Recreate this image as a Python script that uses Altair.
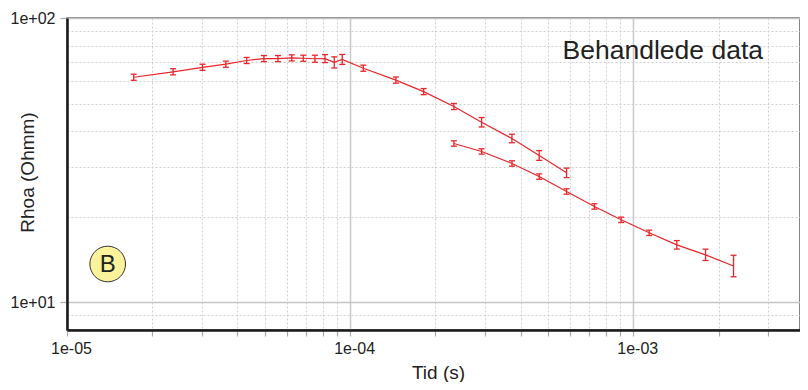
import altair as alt
import pandas as pd

# ---- data ----
time_1 = [1.72e-5, 2.37e-5, 3.01e-5, 3.64e-5, 4.31e-5, 4.96e-5, 5.56e-5, 6.22e-5,
          6.83e-5, 7.51e-5, 8.15e-5, 8.79e-5, 9.38e-5, 1.113e-4, 1.451e-4, 1.818e-4,
          2.325e-4, 2.913e-4, 3.727e-4, 4.653e-4, 5.814e-4]
rhoa_1 = [61.9, 64.7, 67.1, 68.8, 70.9, 72.0, 72.0, 72.4, 72.2, 71.9, 72.0, 69.8,
          71.5, 66.6, 60.5, 55.1, 48.85, 43.0, 37.7, 32.85, 28.55]
relerr_1 = [0.025, 0.025, 0.025, 0.025, 0.025, 0.025, 0.025, 0.025, 0.025, 0.029,
            0.033, 0.046, 0.041, 0.025, 0.025, 0.025, 0.025, 0.039, 0.035, 0.040, 0.039]

time_2 = [2.325e-4, 2.913e-4, 3.73e-4, 4.653e-4, 5.814e-4, 7.29e-4, 9.06e-4,
          1.138e-3, 1.425e-3, 1.80e-3, 2.26e-3]
rhoa_2 = [36.2, 33.95, 30.8, 27.7, 24.55, 21.75, 19.52, 17.57, 15.94, 14.70, 13.43]
relerr_2 = [0.022, 0.022, 0.022, 0.022, 0.022, 0.022, 0.022, 0.022, 0.035, 0.047, 0.091]

x_decades = [1e-05, 1e-04, 1e-03]
x_tick_labels = ["1e-05", "1e-04", "1e-03"]
y_decades = [10, 100]
y_tick_labels = ["1e+01", "1e+02"]

title_text = "Behandlede data"
badge_text = "B"

# ---- build table ----
rows = []
for name, ts, rs, es in (("s1", time_1, rhoa_1, relerr_1), ("s2", time_2, rhoa_2, relerr_2)):
    for t, r, e in zip(ts, rs, es):
        rows.append({"series": name, "t": t, "rho": r, "lo": r / (1 + e), "hi": r * (1 + e)})
df = pd.DataFrame(rows)

X_MAX = 3.88e-3
x_grid = [m * d for d in x_decades for m in range(1, 10) if m * d <= X_MAX]
y_grid = [9] + [m * 10 for m in range(1, 10)] + [100]


def lab_expr(vals, labs):
    s = "''"
    for v, l in reversed(list(zip(vals, labs))):
        s = f"datum.value == {v!r} ? '{l}' : ({s})"
    return s


def dec_test(vals):
    return " || ".join(f"datum.value == {v!r}" for v in vals)


FONT = "Liberation Sans"
RED = "#e8262a"
xt = dec_test(x_decades)
yt = dec_test(y_decades)

x_axis = alt.Axis(
    values=x_grid, labelExpr=lab_expr(x_decades, x_tick_labels),
    grid=True,
    gridDash={"condition": {"test": xt, "value": []}, "value": [2, 2]},
    gridColor={"condition": {"test": xt, "value": "#cccccc"}, "value": "#d0d0d0"},
    gridWidth={"condition": {"test": xt, "value": 1.6}, "value": 1},
    domainColor="#1a1a1a", domainWidth=2.5,
    tickColor="#aaaaaa", tickSize=6, tickWidth=1.2,
    labelFont=FONT, labelFontSize=16, labelColor="#222222", labelPadding=4,
    labelOffset=4, labelOverlap=False, labelFlush=False,
    title="Tid (s)", titleFont=FONT, titleFontSize=19, titleFontWeight="normal",
    titleColor="#222222", titleBaseline="alphabetic", titleX=371, titleY=48,
)
y_axis = alt.Axis(
    values=y_grid, labelExpr=lab_expr(y_decades, y_tick_labels),
    grid=True,
    gridDash={"condition": {"test": yt, "value": []}, "value": [2, 2]},
    gridColor={"condition": {"test": yt, "value": "#c4c4c4"}, "value": "#d0d0d0"},
    gridWidth={"condition": {"test": yt, "value": 1.6}, "value": 1},
    tickOpacity={"condition": {"test": yt, "value": 1}, "value": 0},
    domainColor="#1a1a1a", domainWidth=2.5,
    tickColor="#aaaaaa", tickSize=7, tickWidth=1.2,
    labelFont=FONT, labelFontSize=16, labelColor="#222222", labelPadding=5,
    labelOverlap=False, labelFlush=False,
    title="Rhoa (Ohmm)", titleFont=FONT, titleFontSize=19, titleFontWeight="normal",
    titleColor="#222222", titleBaseline="alphabetic", titleAngle=270,
    titleX=-34, titleY=154,
)

xs = alt.Scale(type="log", domain=[1e-5, X_MAX], nice=False)
ys = alt.Scale(type="log", domain=[8, 100], nice=False)

base = alt.Chart(df)
lines = base.mark_line(color=RED, strokeWidth=1.2).encode(
    x=alt.X("t:Q", scale=xs, axis=x_axis),
    y=alt.Y("rho:Q", scale=ys, axis=y_axis),
    detail="series:N",
)
bars = base.mark_rule(color=RED, strokeWidth=1.3).encode(
    x="t:Q", y="lo:Q", y2="hi:Q",
)
caps = base.transform_fold(["lo", "hi"], as_=["end", "val"]).mark_tick(
    color=RED, orient="horizontal", size=6, thickness=1.3, opacity=1
).encode(x="t:Q", y="val:Q")

one = pd.DataFrame({"label": [title_text]})
title_mark = alt.Chart(one).mark_text(
    align="right", baseline="alphabetic", font=FONT, fontSize=26.5, color="#222222"
).encode(text="label:N", x=alt.value(696), y=alt.value(41.3))

badge_df = pd.DataFrame({"label": [badge_text]})
badge_circle = alt.Chart(badge_df).mark_point(
    shape="circle", filled=True, fill="#fcf29c", stroke="#333333", strokeWidth=1,
    size=1270, opacity=1
).encode(x=alt.value(40.7), y=alt.value(246))
badge_label = alt.Chart(badge_df).mark_text(
    align="center", baseline="middle", font=FONT, fontSize=24, color="#222222", dy=1
).encode(text="label:N", x=alt.value(40.7), y=alt.value(246))

chart = alt.layer(lines, bars, caps, title_mark, badge_circle, badge_label).properties(
    width=733, height=312,
    autosize=alt.AutoSizeParams(type="none"),
    padding={"left": 59, "top": 10, "right": 0, "bottom": 52},
).configure_view(stroke="#666666", strokeWidth=1.6)

chart.save("out.html", embed_options={"renderer": "svg", "actions": False})
